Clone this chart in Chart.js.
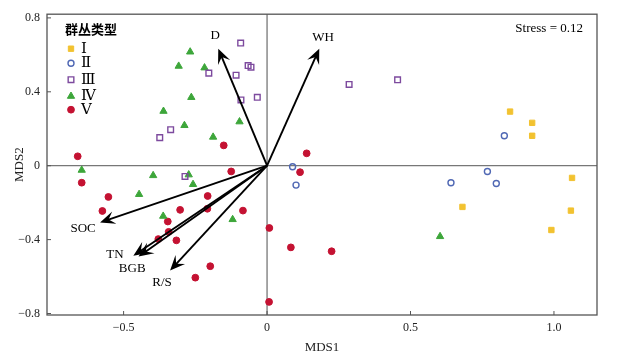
<!DOCTYPE html>
<html><head><meta charset="utf-8">
<script src="https://cdn.jsdelivr.net/npm/chart.js@4/dist/chart.umd.min.js"></script>
<style>html,body{margin:0;padding:0;background:#fff;}canvas{display:block;}</style>
</head><body>
<canvas id="c" width="628" height="361"></canvas>
<script>
// ---- data ----
const groupNames = ['Ⅰ','Ⅱ','Ⅲ','Ⅳ','Ⅴ'];
const g1x = [0.847,0.924,0.924,1.063,1.059,0.991,0.681];
const g1y = [0.293,0.232,0.162,-0.066,-0.243,-0.348,-0.223];
const g2x = [0.827,0.089,0.101,0.641,0.768,0.799];
const g2y = [0.162,-0.006,-0.105,-0.092,-0.031,-0.096];
const g3x = [-0.092,-0.203,-0.108,-0.066,-0.056,-0.091,-0.034,-0.336,-0.374,-0.286,0.286,0.455];
const g3y = [0.664,0.501,0.490,0.542,0.533,0.356,0.370,0.195,0.152,-0.058,0.440,0.465];
const g4x = [-0.268,-0.308,-0.218,-0.264,-0.361,-0.288,-0.096,-0.188,-0.646,-0.397,-0.273,-0.258,-0.446,-0.362,-0.120,0.603];
const g4y = [0.616,0.539,0.530,0.370,0.295,0.218,0.238,0.155,-0.024,-0.053,-0.049,-0.101,-0.155,-0.273,-0.291,-0.383];
const g5x = [-0.660,-0.151,0.138,-0.646,-0.553,-0.574,-0.125,-0.207,-0.303,-0.208,-0.084,-0.346,-0.343,-0.379,-0.316,-0.198,-0.250,0.008,0.007,0.115,0.083,0.225];
const g5y = [0.051,0.110,0.067,-0.092,-0.169,-0.245,-0.031,-0.164,-0.239,-0.233,-0.243,-0.302,-0.358,-0.397,-0.404,-0.544,-0.606,-0.337,-0.737,-0.035,-0.442,-0.463];

const vecNames = ['D','WH','SOC','TN','BGB','R/S'];
const vecX = [-0.170,0.182,-0.582,-0.466,-0.448,-0.338];
const vecY = [0.633,0.633,-0.307,-0.487,-0.492,-0.567];
const vecLabelX = [-0.181,0.195,-0.641,-0.530,-0.470,-0.366];
const vecLabelY = [0.707,0.691,-0.341,-0.481,-0.556,-0.632];

const xTicks = [-0.5,0,0.5,1.0];
const xTickLabels = ['−0.5','0','0.5','1.0'];
const yTicks = [-0.8,-0.4,0,0.4,0.8];
const yTickLabels = ['−0.8','−0.4','0','0.4','0.8'];
const legendTitle = '群丛类型';
const stressText = 'Stress = 0.12';

// ---- build ----
const serif = '"Liberation Serif","Times New Roman",serif';
const styles = [
  {pointStyle:'rect', backgroundColor:'#F2C230', borderColor:'#F2C230', radius:3.8, borderWidth:1},
  {pointStyle:'circle', backgroundColor:'rgba(0,0,0,0)', borderColor:'#5068B4', radius:3, borderWidth:1.4},
  {pointStyle:'rect', backgroundColor:'rgba(0,0,0,0)', borderColor:'#7D4A9E', radius:4, borderWidth:1.4},
  {pointStyle:'triangle', backgroundColor:'#3DA63A', borderColor:'#3DA63A', radius:4.2, borderWidth:1},
  {pointStyle:'circle', backgroundColor:'#C41232', borderColor:'#C41232', radius:3.4, borderWidth:1}
];
const xs=[g1x,g2x,g3x,g4x,g5x], ys=[g1y,g2y,g3y,g4y,g5y];
const datasets = xs.map((ax,i)=>({
  label: groupNames[i],
  data: ax.map((v,j)=>({x:v,y:ys[i][j]})),
  pointStyle: styles[i].pointStyle,
  backgroundColor: styles[i].backgroundColor,
  borderColor: styles[i].borderColor,
  pointRadius: styles[i].radius,
  pointBorderWidth: styles[i].borderWidth,
  pointHoverRadius: styles[i].radius
}));

function drawArrow(ctx,x0,y0,x1,y1){
  const ang=Math.atan2(y1-y0,x1-x0);
  const L=15, W=6.5, notch=9;
  ctx.beginPath();
  ctx.moveTo(x0,y0);
  ctx.lineTo(x1-Math.cos(ang)*notch*0.9,y1-Math.sin(ang)*notch*0.9);
  ctx.stroke();
  const bx=x1-Math.cos(ang)*L, by=y1-Math.sin(ang)*L;
  const nx=-Math.sin(ang), ny=Math.cos(ang);
  ctx.beginPath();
  ctx.moveTo(x1,y1);
  ctx.lineTo(bx+nx*W,by+ny*W);
  ctx.lineTo(x1-Math.cos(ang)*notch,y1-Math.sin(ang)*notch);
  ctx.lineTo(bx-nx*W,by-ny*W);
  ctx.closePath();
  ctx.fill();
}

const framePlugin = {
  id:'frame',
  beforeDatasetsDraw(chart){
    const {ctx, chartArea:a, scales:{x,y}} = chart;
    ctx.save();
    ctx.strokeStyle='#777'; ctx.lineWidth=1.3;
    const x0=x.getPixelForValue(0), y0=y.getPixelForValue(0);
    ctx.beginPath(); ctx.moveTo(x0,a.top); ctx.lineTo(x0,a.bottom); ctx.stroke();
    ctx.beginPath(); ctx.moveTo(a.left,y0); ctx.lineTo(a.right,y0); ctx.stroke();
    ctx.strokeStyle='#555'; ctx.lineWidth=1.3;
    ctx.strokeRect(a.left,a.top,a.right-a.left,a.bottom-a.top);
    ctx.lineWidth=1;
    xTicks.forEach(v=>{const p=x.getPixelForValue(v);ctx.beginPath();ctx.moveTo(p,a.bottom);ctx.lineTo(p,a.bottom-4);ctx.stroke();});
    yTicks.forEach(v=>{const p=y.getPixelForValue(v);ctx.beginPath();ctx.moveTo(a.left,p);ctx.lineTo(a.left+4,p);ctx.stroke();});
    ctx.restore();
  },
  afterDatasetsDraw(chart){
    const {ctx, chartArea:a, scales:{x,y}} = chart;
    ctx.save();
    const ox=x.getPixelForValue(0), oy=y.getPixelForValue(0);
    ctx.strokeStyle='#000'; ctx.fillStyle='#000'; ctx.lineWidth=1.9;
    vecNames.forEach((n,i)=>{
      drawArrow(ctx,ox,oy,x.getPixelForValue(vecX[i]),y.getPixelForValue(vecY[i]));
    });
    ctx.font='13px '+serif; ctx.textAlign='center'; ctx.textBaseline='middle';
    vecNames.forEach((n,i)=>{
      ctx.fillText(n,x.getPixelForValue(vecLabelX[i]),y.getPixelForValue(vecLabelY[i]));
    });
    ctx.textAlign='right';
    ctx.fillText(stressText,a.right-14,a.top+14);
    // legend
    ctx.textAlign='left';
    ctx.font='bold 13px "Noto Sans CJK SC",sans-serif';
    ctx.fillText(legendTitle,a.left+18,a.top+15);
    ctx.font='15px "DejaVu Serif","Liberation Serif",serif';
    const rowY=[34.5,49,65.5,82,95.5];
    groupNames.forEach((n,i)=>{
      const yy=a.top+rowY[i], xx=a.left+24;
      const s=styles[i];
      ctx.save();
      ctx.fillStyle=s.backgroundColor; ctx.strokeStyle=s.borderColor; ctx.lineWidth=s.borderWidth;
      Chart.helpers.drawPoint(ctx,{pointStyle:s.pointStyle,radius:s.radius,borderWidth:s.borderWidth},xx,yy);
      ctx.restore();
      ctx.fillStyle='#000';
      ctx.fillText(n,a.left+34,yy);
    });
    ctx.restore();
  }
};

new Chart(document.getElementById('c'),{
  type:'scatter',
  data:{datasets},
  options:{
    responsive:false, animation:false, devicePixelRatio:1,
    layout:{padding:{left:0,right:31,top:12,bottom:0}},
    plugins:{legend:{display:false},tooltip:{enabled:false}},
    scales:{
      x:{type:'linear',min:-0.767,max:1.15,
        grid:{display:false,drawTicks:false},border:{display:false},
        afterBuildTicks:s=>{s.ticks=xTicks.map(v=>({value:v}));},
        afterFit:s=>{s.height=46;},
        ticks:{padding:6,color:'#222',font:{family:serif,size:12},callback:(v)=>xTickLabels[xTicks.indexOf(v)]},
        title:{display:true,text:'MDS1',color:'#222',font:{family:serif,size:13},padding:{top:0,bottom:6}}
      },
      y:{type:'linear',min:-0.808,max:0.82,
        grid:{display:false,drawTicks:false},border:{display:false},
        afterBuildTicks:s=>{s.ticks=yTicks.map(v=>({value:v}));},
        afterFit:s=>{s.width=47;},
        ticks:{padding:7,color:'#222',font:{family:serif,size:12},callback:(v)=>yTickLabels[yTicks.indexOf(v)]},
        title:{display:true,text:'MDS2',color:'#222',font:{family:serif,size:13},padding:{top:12,bottom:0}}
      }
    }
  },
  plugins:[framePlugin]
});
</script>
</body></html>
